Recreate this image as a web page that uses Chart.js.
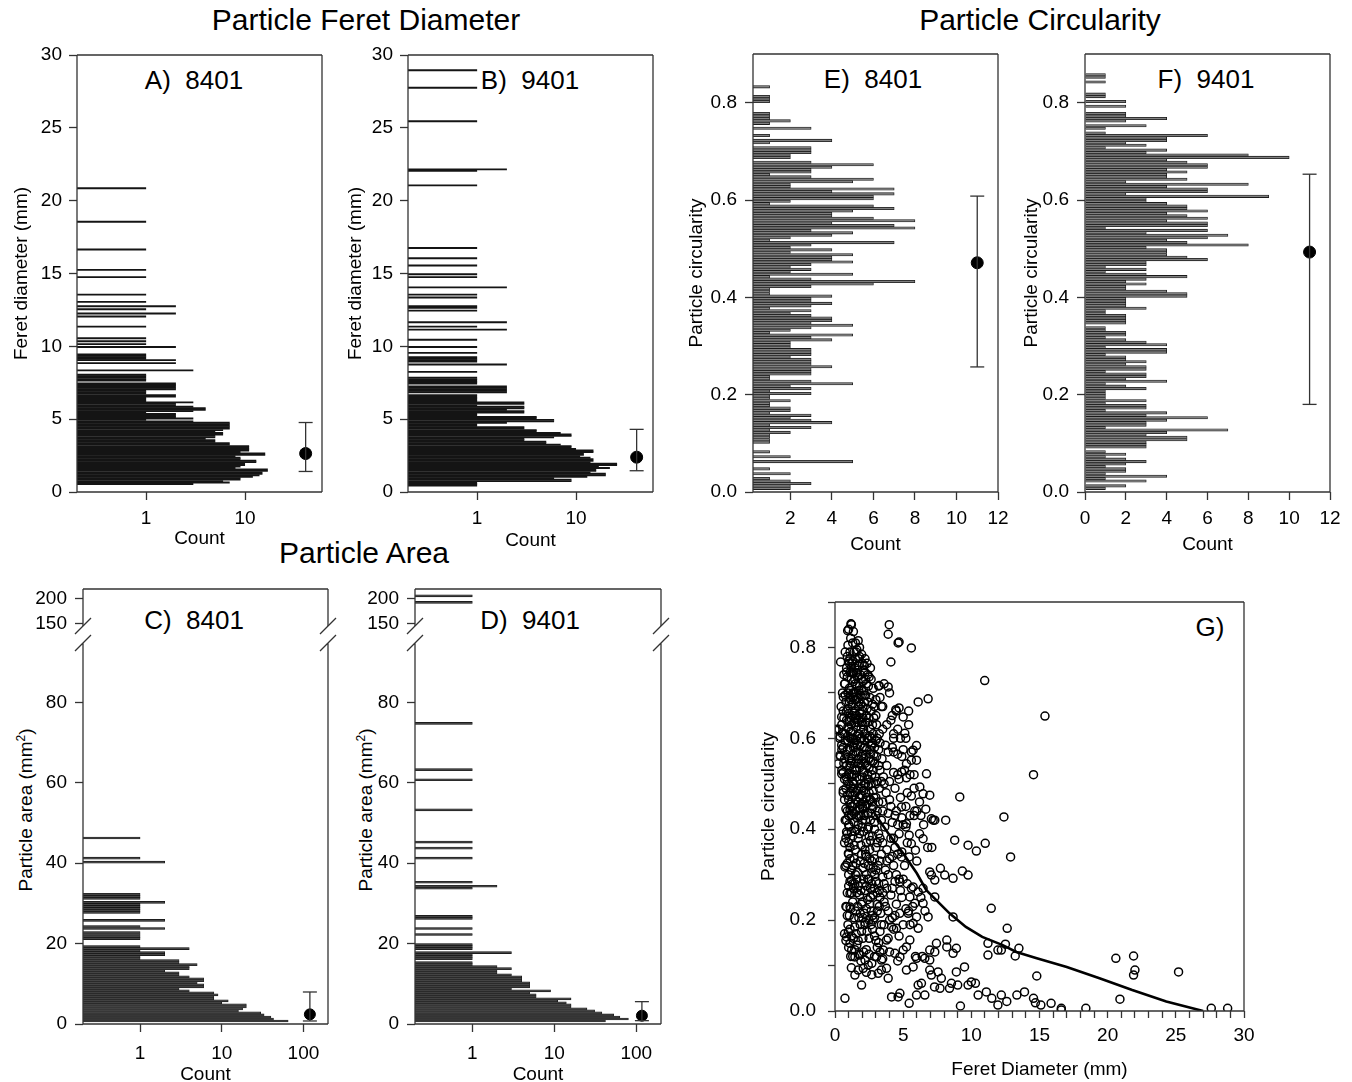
<!DOCTYPE html>
<html lang="en">
<head>
<meta charset="UTF-8">
<title>Particle size and shape</title>
<script src="https://cdn.jsdelivr.net/npm/chart.js"></script>
<style>
  html, body { margin: 0; padding: 0; background: #fff; overflow: hidden; }
  #page { position: relative; width: 1352px; height: 1082px; overflow: hidden;
          font-family: 'Liberation Sans', Arial, sans-serif; color: #000; }
  #page canvas { position: absolute; }
  .txt { position: absolute; transform: translate(-50%, -50%); white-space: pre; line-height: 1; }
  .head { font-size: 30px; }
  .lab { font-size: 26px; }
  .ytitle { font-size: 19px; transform: translate(-50%, -50%) rotate(-90deg); }
  .ytitle sup { font-size: 12px; vertical-align: 7px; line-height: 0; }
</style>
</head>
<body>
<div id="page">
  <div class="txt head" style="left:366px;top:20px">Particle Feret Diameter</div>
  <div class="txt head" style="left:1040px;top:20px">Particle Circularity</div>
  <div class="txt head" style="left:364px;top:553px">Particle Area</div>
  <div class="txt lab" style="left:194px;top:80px">A)  8401</div>
  <div class="txt lab" style="left:530px;top:80px">B)  9401</div>
  <div class="txt lab" style="left:873px;top:79px">E)  8401</div>
  <div class="txt lab" style="left:1206px;top:79px">F)  9401</div>
  <div class="txt lab" style="left:194px;top:620px">C)  8401</div>
  <div class="txt lab" style="left:530px;top:620px">D)  9401</div>
  <div class="txt lab" style="left:1210px;top:627px">G)</div>
  <div class="txt ytitle" style="left:25px;top:810px">Particle area (mm<sup>2</sup>)</div>
  <div class="txt ytitle" style="left:365px;top:810px">Particle area (mm<sup>2</sup>)</div>
</div>

<script>
// ---- data ----

// A) 8401 Feret diameter histogram: bin centre (mm) and count
const feretA_mm = [
  0.55, 0.65, 0.75, 0.85, 0.95, 1.05, 1.15, 1.25, 1.35, 1.45,
  1.55, 1.65, 1.75, 1.85, 1.95, 2.05, 2.15, 2.25, 2.35, 2.45,
  2.55, 2.65, 2.75, 2.85, 2.95, 3.05, 3.15, 3.25, 3.35, 3.45,
  3.55, 3.65, 3.75, 3.85, 3.95, 4.05, 4.15, 4.25, 4.35, 4.45,
  4.55, 4.65, 4.75, 4.85, 4.95, 5.05, 5.15, 5.25, 5.35, 5.45,
  5.55, 5.65, 5.75, 5.85, 5.95, 6.05, 6.15, 6.25, 6.35, 6.45,
  6.55, 6.65, 6.75, 6.85, 6.95, 7.05, 7.15, 7.25, 7.35, 7.45,
  7.65, 7.75, 7.85, 7.95, 8.05, 8.35, 8.85, 9.05, 9.15, 9.25,
  9.35, 9.45, 9.95, 10.15, 10.35, 10.55, 11.35, 12.05, 12.25, 12.55,
  12.75, 13.05, 13.55, 14.75, 15.25, 16.65, 18.55, 20.85
];
const feretA_n = [
  3, 7, 6, 9, 9, 12, 14, 15, 15, 17,
  17, 8, 9, 10, 10, 13, 13, 9, 9, 8,
  16, 16, 9, 11, 11, 11, 11, 7, 7, 5,
  5, 4, 5, 5, 6, 6, 5, 6, 7, 7,
  7, 7, 7, 3, 1, 3, 2, 2, 2, 1,
  3, 4, 4, 3, 2, 2, 3, 1, 1, 1,
  2, 2, 1, 1, 1, 2, 2, 2, 2, 2,
  1, 1, 1, 1, 1, 3, 2, 2, 1, 1,
  1, 1, 2, 1, 1, 1, 1, 1, 2, 1,
  2, 1, 1, 1, 1, 1, 1, 1
];

// B) 9401 Feret diameter histogram
const feretB_mm = [
  0.45, 0.55, 0.65, 0.75, 0.85, 0.95, 1.05, 1.15, 1.25, 1.35,
  1.45, 1.55, 1.65, 1.75, 1.85, 1.95, 2.05, 2.15, 2.25, 2.35,
  2.45, 2.55, 2.65, 2.75, 2.85, 2.95, 3.05, 3.15, 3.25, 3.35,
  3.45, 3.55, 3.65, 3.75, 3.85, 3.95, 4.05, 4.15, 4.25, 4.35,
  4.45, 4.55, 4.65, 4.75, 4.85, 4.95, 5.05, 5.15, 5.25, 5.35,
  5.45, 5.55, 5.65, 5.75, 5.85, 5.95, 6.05, 6.15, 6.25, 6.35,
  6.45, 6.55, 6.65, 6.85, 6.95, 7.05, 7.15, 7.25, 7.45, 7.55,
  7.65, 7.75, 7.85, 8.25, 8.75, 8.95, 9.05, 9.15, 9.25, 9.55,
  9.95, 10.45, 11.15, 11.35, 11.65, 12.45, 12.65, 12.75, 13.35, 13.55,
  14.05, 14.75, 14.95, 15.55, 16.05, 16.75, 21.05, 22.05, 22.15, 25.45,
  27.75, 28.95
];
const feretB_n = [
  1, 1, 1, 9, 9, 6, 13, 20, 20, 14,
  16, 16, 22, 17, 26, 26, 14, 15, 15, 14,
  11, 12, 12, 15, 15, 10, 9, 9, 7, 5,
  5, 3, 3, 6, 9, 9, 7, 4, 4, 3,
  3, 1, 1, 2, 6, 6, 4, 4, 1, 1,
  3, 3, 2, 3, 3, 1, 3, 3, 1, 1,
  1, 1, 1, 2, 2, 2, 2, 2, 1, 1,
  1, 1, 1, 1, 2, 1, 1, 1, 1, 1,
  1, 1, 2, 1, 2, 1, 1, 1, 1, 1,
  2, 1, 1, 1, 1, 1, 1, 1, 2, 1,
  1, 1
];

// C) 8401 particle area histogram: bin centre (mm2) and count
const areaC_mm2 = [
  0.75, 1.25, 1.75, 2.25, 2.75, 3.25, 3.75, 4.25, 4.75, 5.25,
  5.75, 6.25, 6.75, 7.25, 7.75, 8.25, 8.75, 9.25, 9.75, 10.25,
  10.75, 11.25, 11.75, 12.25, 12.75, 13.25, 13.75, 14.25, 14.75, 15.25,
  15.75, 16.25, 16.75, 17.25, 17.75, 18.25, 18.75, 19.25, 21.25, 21.75,
  22.25, 22.75, 23.75, 24.25, 25.75, 27.75, 28.25, 28.75, 29.25, 29.75,
  30.25, 31.25, 31.75, 32.25, 40.25, 41.25, 46.25
];
const areaC_n = [
  65, 43, 40, 33, 30, 16, 18, 20, 20, 10,
  12, 8, 8, 9, 8, 4, 3, 6, 6, 5,
  6, 6, 4, 3, 3, 2, 4, 4, 5, 3,
  3, 1, 1, 2, 2, 1, 4, 1, 1, 1,
  1, 1, 2, 1, 2, 1, 1, 1, 1, 1,
  2, 1, 1, 1, 2, 1, 1
];

// D) 9401 particle area histogram
const areaD_mm2 = [
  0.75, 1.25, 1.75, 2.25, 2.75, 3.25, 3.75, 4.25, 4.75, 5.25,
  5.75, 6.25, 6.75, 7.25, 7.75, 8.25, 8.75, 9.25, 9.75, 10.25,
  10.75, 11.25, 11.75, 12.25, 12.75, 13.25, 13.75, 14.25, 14.75, 15.25,
  16.25, 16.75, 17.25, 17.75, 18.75, 19.25, 19.75, 22.25, 23.75, 26.25,
  26.75, 33.75, 34.25, 35.25, 41.25, 43.75, 45.25, 53.25, 60.75, 63.25,
  74.75, 192.25, 205.25
];
const areaD_n = [
  42, 80, 63, 53, 38, 31, 25, 16, 16, 14,
  11, 16, 6, 6, 5, 9, 3, 5, 5, 5,
  4, 4, 4, 3, 2, 2, 3, 2, 1, 1,
  1, 1, 1, 3, 1, 1, 1, 1, 1, 1,
  1, 1, 2, 1, 1, 1, 1, 1, 1, 1,
  1, 1, 1
];

// E) and F) circularity histograms, bins of 0.005 starting at 0
const circBinWidth = 0.005;
const circE_n = [
  0, 2, 2, 3, 2, 1, 0, 2, 0, 1,
  0, 0, 5, 0, 2, 0, 1, 0, 0, 0,
  1, 1, 1, 1, 2, 1, 3, 1, 4, 3,
  2, 3, 1, 2, 2, 1, 1, 2, 1, 1,
  3, 1, 3, 2, 5, 3, 1, 1, 3, 3,
  3, 4, 3, 3, 3, 2, 3, 3, 3, 2,
  2, 2, 4, 3, 5, 1, 2, 3, 5, 3,
  4, 4, 3, 2, 3, 1, 3, 4, 3, 3,
  4, 1, 1, 1, 3, 6, 8, 3, 1, 5,
  2, 3, 2, 3, 5, 4, 4, 5, 2, 4,
  2, 3, 7, 1, 2, 4, 5, 3, 8, 7,
  4, 8, 6, 4, 4, 5, 7, 6, 1, 2,
  6, 6, 7, 4, 7, 2, 2, 5, 6, 3,
  1, 3, 3, 4, 6, 3, 0, 2, 2, 3,
  3, 3, 0, 1, 4, 0, 1, 0, 0, 3,
  0, 1, 2, 1, 1, 1, 0, 0, 0, 0,
  1, 1, 1, 0, 0, 0, 1
];
const circF_n = [
  0, 1, 2, 0, 3, 1, 4, 1, 2, 2,
  1, 2, 3, 2, 1, 2, 1, 0, 3, 3,
  3, 5, 5, 3, 4, 7, 1, 3, 3, 4,
  6, 3, 4, 1, 3, 3, 1, 3, 1, 1,
  1, 1, 3, 2, 1, 4, 2, 3, 3, 1,
  3, 3, 2, 3, 2, 2, 1, 4, 4, 1,
  4, 3, 2, 1, 2, 2, 1, 1, 0, 2,
  2, 2, 2, 1, 1, 3, 2, 2, 2, 2,
  5, 5, 4, 2, 2, 3, 2, 3, 5, 3,
  1, 3, 1, 3, 3, 6, 5, 4, 4, 4,
  3, 8, 5, 4, 6, 7, 3, 6, 1, 6,
  6, 4, 6, 5, 4, 6, 5, 5, 4, 3,
  3, 9, 2, 6, 6, 4, 8, 2, 5, 4,
  4, 5, 4, 6, 6, 5, 4, 10, 8, 3,
  4, 1, 3, 2, 4, 4, 6, 1, 0, 1,
  3, 0, 2, 4, 2, 2, 0, 0, 2, 0,
  2, 0, 1, 1, 0, 0, 0, 0, 1, 0,
  1, 1
];

// mean, lower and upper error bar value, and where the marker sits on the count axis
const errA = [2.64, 1.41, 4.77], errAtA = 41;
const errB = [2.39, 1.46, 4.30], errAtB = 41;
const errC = [2.40, 0.75, 7.96], errAtC = 120;
const errD = [2.07, 0.83, 5.56], errAtD = 117;
const errE = [0.471, 0.257, 0.608], errAtE = 11;
const errF = [0.493, 0.180, 0.653], errAtF = 11;

// G) circularity vs Feret diameter, [diameter mm, circularity]
const gPoints = [
  [1.2,0.85],[1.0,0.84],[1.5,0.81],[1.3,0.81],[1.7,0.815],[1.8,0.80],[1.4,0.79],
  [0.9,0.78],[1.1,0.79],[1.3,0.77],[1.5,0.775],[1.6,0.795],[1.8,0.78],[2.0,0.765],[2.2,0.775],[1.45,0.755],[1.7,0.76],[2.6,0.755],[2.4,0.74],[2.1,0.75],[1.2,0.755],[1.0,0.77],[1.25,0.765],[1.55,0.745],
  [0.7,0.72],[0.9,0.735],[1.05,0.71],[1.2,0.73],[1.35,0.745],[1.5,0.72],[1.65,0.735],[1.8,0.715],[1.95,0.73],[2.1,0.705],[2.3,0.72],[2.5,0.735],[2.8,0.71],[1.4,0.70],[1.1,0.745],[1.75,0.705],[2.2,0.745],[3.2,0.715],[1.35,0.725],[1.6,0.715],[1.15,0.705],
  [0.8,0.68],[0.95,0.665],[1.1,0.69],[1.25,0.675],[1.4,0.655],[1.55,0.685],[1.7,0.67],[1.85,0.695],[2.0,0.66],[2.15,0.68],[2.35,0.665],[2.55,0.69],[2.75,0.675],[3.0,0.685],[3.3,0.69],[3.4,0.67],[1.3,0.70],[1.6,0.65],[2.25,0.695],[1.0,0.655],[0.6,0.66],[1.45,0.685],[1.7,0.69],[1.9,0.675],[1.05,0.68],[1.3,0.66],[1.5,0.645],[1.8,0.655],[2.05,0.67],[2.3,0.65],
  [0.5,0.63],[0.7,0.61],[0.85,0.64],[1.0,0.62],[1.15,0.645],[1.3,0.615],[1.45,0.635],[1.6,0.605],[1.75,0.64],[1.9,0.62],[2.05,0.645],[2.2,0.61],[2.4,0.635],[2.6,0.62],[2.85,0.645],[3.05,0.63],[3.25,0.61],[3.5,0.62],[3.8,0.63],[4.1,0.64],[4.3,0.61],[1.2,0.60],[2.7,0.60],[0.3,0.62],[0.1,0.62],[4.5,0.66],[4.2,0.65],[0.95,0.625],[1.2,0.63],[1.55,0.625],[1.85,0.60],[2.1,0.62],[2.45,0.60],
  [0.4,0.56],[0.6,0.58],[0.8,0.565],[0.95,0.595],[1.1,0.575],[1.25,0.555],[1.4,0.59],[1.55,0.57],[1.7,0.555],[1.85,0.585],[2.0,0.565],[2.15,0.595],[2.3,0.575],[2.5,0.555],[2.65,0.585],[2.85,0.565],[3.0,0.595],[3.2,0.575],[3.45,0.555],[3.7,0.585],[3.9,0.57],[4.2,0.58],[4.6,0.565],[5.0,0.575],[1.95,0.60],[2.75,0.59],[3.3,0.59],[0.65,0.545],[1.1,0.60],[1.35,0.58],[1.65,0.585],[1.95,0.56],[2.25,0.565],[2.55,0.575],[2.9,0.58],[1.05,0.555],
  [0.5,0.53],[0.7,0.51],[0.85,0.54],[1.0,0.52],[1.15,0.545],[1.3,0.505],[1.45,0.53],[1.6,0.515],[1.75,0.545],[1.9,0.50],[2.05,0.53],[2.2,0.545],[2.35,0.51],[2.5,0.535],[2.7,0.52],[2.9,0.545],[3.1,0.505],[3.3,0.53],[3.55,0.515],[3.8,0.54],[4.0,0.505],[4.3,0.525],[4.7,0.51],[5.1,0.53],[5.5,0.52],[2.6,0.55],[1.2,0.55],[1.5,0.545],[1.8,0.535],[2.1,0.525],[2.4,0.52],[2.8,0.53],[3.2,0.54],[1.25,0.52],[0.9,0.505],
  [0.6,0.48],[0.8,0.49],[1.0,0.465],[1.15,0.495],[1.3,0.475],[1.45,0.455],[1.6,0.485],[1.8,0.47],[1.95,0.49],[2.1,0.46],[2.25,0.48],[2.45,0.495],[2.6,0.465],[2.8,0.485],[3.0,0.47],[3.25,0.49],[3.5,0.46],[3.75,0.48],[4.0,0.465],[4.4,0.49],[4.8,0.47],[5.3,0.48],[1.35,0.50],[2.0,0.45],[3.6,0.50],[1.7,0.49],[2.15,0.50],[2.5,0.48],[3.0,0.50],[3.4,0.505],[1.1,0.48],[1.5,0.465],[1.9,0.455],[2.35,0.455],[2.75,0.46],[3.2,0.46],
  [0.75,0.42],[0.9,0.44],[1.05,0.405],[1.2,0.43],[1.4,0.415],[1.55,0.44],[1.7,0.41],[1.9,0.43],[2.05,0.445],[2.25,0.42],[2.45,0.405],[2.65,0.435],[2.9,0.415],[3.1,0.44],[3.4,0.42],[3.65,0.405],[3.9,0.435],[4.2,0.415],[4.5,0.44],[4.9,0.425],[5.2,0.405],[1.3,0.45],[2.8,0.45],[1.25,0.44],[1.75,0.43],[2.2,0.43],[2.6,0.42],[3.0,0.43],[3.5,0.44],[1.0,0.41],
  [0.7,0.37],[0.9,0.39],[1.1,0.36],[1.3,0.385],[1.5,0.355],[1.7,0.38],[1.9,0.365],[2.1,0.395],[2.3,0.37],[2.55,0.355],[2.75,0.385],[3.0,0.36],[3.2,0.39],[3.5,0.37],[3.8,0.355],[4.1,0.38],[4.4,0.36],[4.7,0.39],[5.3,0.37],[1.6,0.40],[2.4,0.40],[1.45,0.395],[2.0,0.405],[2.5,0.385],[2.9,0.40],[3.3,0.38],
  [0.8,0.32],[1.0,0.345],[1.2,0.31],[1.4,0.335],[1.65,0.305],[1.85,0.33],[2.05,0.315],[2.25,0.345],[2.45,0.32],[2.7,0.305],[2.9,0.335],[3.15,0.32],[3.4,0.345],[3.7,0.31],[4.0,0.335],[4.3,0.32],[4.6,0.345],[1.5,0.30],[2.3,0.30],[2.3,0.34],[2.7,0.33],[3.0,0.31],[1.0,0.30],[3.8,0.33],[4.2,0.34],
  [0.9,0.26],[1.1,0.285],[1.35,0.27],[1.6,0.29],[1.8,0.255],[2.0,0.28],[2.2,0.265],[2.4,0.29],[2.6,0.27],[2.8,0.255],[3.0,0.285],[3.25,0.265],[3.5,0.295],[3.8,0.27],[4.1,0.255],[4.4,0.285],[4.8,0.265],[5.0,0.29],[2.9,0.30],[3.3,0.25],[2.5,0.29],[2.9,0.27],[3.2,0.28],[2.6,0.25],[3.5,0.26],[3.9,0.30],[4.2,0.27],[1.6,0.26],[1.3,0.28],[4.7,0.29],
  [0.8,0.23],[1.05,0.21],[1.3,0.24],[1.5,0.22],[1.75,0.205],[1.95,0.235],[2.15,0.215],[2.4,0.245],[2.65,0.22],[2.9,0.205],[3.1,0.235],[3.35,0.215],[3.6,0.24],[3.9,0.22],[4.2,0.205],[4.5,0.235],[4.75,0.215],[5.2,0.225],[2.5,0.20],[2.0,0.24],[3.1,0.22],[3.7,0.23],[4.0,0.20],[2.8,0.20],
  [0.7,0.17],[0.95,0.19],[1.2,0.165],[1.45,0.185],[1.7,0.155],[1.95,0.175],[2.2,0.195],[2.5,0.16],[2.75,0.18],[3.0,0.155],[3.3,0.175],[3.6,0.19],[3.9,0.16],[4.3,0.18],[4.7,0.165],[5.5,0.19],[2.2,0.19],[3.4,0.19],
  [1.0,0.14],[1.3,0.12],[1.6,0.145],[1.9,0.11],[2.3,0.135],[2.7,0.105],[3.1,0.14],[3.5,0.115],[4.0,0.13],[4.6,0.11],
  [0.75,0.79],[0.95,0.805],[1.15,0.82],[1.35,0.835],[1.55,0.79],[1.75,0.775],[1.95,0.785],[2.15,0.76],[2.35,0.765],
  [0.65,0.74],[0.85,0.755],[1.05,0.765],[1.25,0.745],[1.45,0.73],[1.65,0.75],[1.85,0.74],[2.05,0.725],[2.25,0.73],[2.45,0.715],[2.65,0.73],
  [0.55,0.70],[0.75,0.695],[0.95,0.70],[1.15,0.685],[1.35,0.69],[1.55,0.70],[1.75,0.68],[1.95,0.705],[2.15,0.695],[2.4,0.68],[2.65,0.66],[2.9,0.67],
  [0.45,0.67],[0.65,0.645],[0.85,0.66],[1.05,0.64],[1.25,0.65],[1.45,0.66],[1.65,0.635],[1.85,0.645],[2.05,0.63],[2.25,0.635],[2.5,0.645],[2.75,0.63],[3.0,0.65],
  [0.35,0.60],[0.55,0.61],[0.75,0.595],[0.95,0.605],[1.15,0.615],[1.35,0.60],[1.55,0.595],[1.75,0.61],[1.95,0.635],[2.15,0.58],[2.35,0.60],[2.55,0.605],[2.8,0.61],[3.1,0.60],
  [0.5,0.575],[0.7,0.555],[0.9,0.575],[1.1,0.54],[1.3,0.565],[1.5,0.58],[1.7,0.57],[1.9,0.545],[2.1,0.555],[2.35,0.54],[2.6,0.565],[2.8,0.55],[3.05,0.56],
  [0.6,0.525],[0.8,0.515],[1.0,0.50],[1.2,0.515],[1.4,0.52],[1.6,0.53],[1.8,0.51],[2.0,0.515],[2.25,0.50],[2.45,0.51],[2.65,0.50],[2.95,0.515],
  [0.7,0.465],[0.9,0.475],[1.1,0.455],[1.3,0.49],[1.5,0.48],[1.7,0.46],[1.9,0.475],[2.1,0.485],[2.3,0.47],[2.55,0.465],[2.85,0.47],
  [0.8,0.445],[1.0,0.43],[1.2,0.45],[1.4,0.435],[1.6,0.425],[1.8,0.445],[2.0,0.42],[2.2,0.45],[2.4,0.435],[2.7,0.445],
  [0.8,0.38],[1.0,0.37],[1.2,0.395],[1.4,0.365],[1.8,0.39],[2.2,0.355],[2.6,0.375],[3.1,0.37],
  [0.9,0.325],[1.1,0.335],[1.3,0.32],[1.55,0.325],[1.95,0.345],[2.15,0.325],[2.55,0.335],[2.8,0.315],[3.3,0.33],
  [1.0,0.275],[1.2,0.26],[1.45,0.28],[1.7,0.275],[1.9,0.265],[2.1,0.29],[2.3,0.275],[2.7,0.28],[3.1,0.26],[3.6,0.28],
  [0.9,0.21],[1.15,0.225],[1.4,0.205],[1.65,0.23],[1.85,0.215],[2.05,0.205],[2.3,0.225],[2.55,0.235],[2.75,0.21],[3.25,0.23],
  [0.8,0.155],[1.1,0.18],[1.35,0.16],[1.55,0.17],[1.85,0.19],[2.05,0.16],[2.35,0.175],[2.65,0.19],[2.9,0.165],[3.2,0.15],
  [1.15,0.12],[1.45,0.135],[1.75,0.125],[2.1,0.13],[2.5,0.125],[2.9,0.12],[3.3,0.13],
  [1.2,0.095],[1.7,0.09],[2.3,0.085],[2.7,0.08],[3.4,0.09],
  [4.1,0.45],[4.4,0.43],[4.6,0.41],[4.3,0.38],[4.9,0.35],[5.1,0.32],[4.5,0.30],[5.3,0.28],[5.6,0.27],[4.9,0.25],[5.4,0.22],[4.4,0.21],[5.0,0.19],[5.5,0.43],[5.8,0.43],[5.2,0.45],[5.0,0.41],[4.6,0.62],[4.3,0.57],[4.9,0.56],[5.2,0.60],[5.4,0.66],[4.0,0.70],[3.6,0.72],[3.5,0.67],[4.3,0.60],[5.8,0.49],[6.0,0.44],[6.3,0.43],[6.5,0.41],[6.2,0.46],[6.8,0.36],[7.1,0.36],[7.2,0.42],[6.2,0.39],[6.0,0.33],[6.3,0.25],[6.6,0.22],[5.7,0.23],[5.9,0.12],[6.4,0.12],[5.4,0.63],[5.6,0.57],[4.8,0.60],[4.6,0.52],[5.8,0.52],
  [10.98,0.727],[15.4,0.649],[14.56,0.52],[9.15,0.471],[12.39,0.427],[11.02,0.369],[12.88,0.339],[9.76,0.365],[10.37,0.352],[8.78,0.376],[8.12,0.42],[9.34,0.308],[9.76,0.299],[11.46,0.226],[12.63,0.182],[11.22,0.149],[11.22,0.123],[11.95,0.134],[12.2,0.134],[12.5,0.147],
  [13.49,0.138],[13.22,0.121],[14.8,0.077],[13.9,0.042],[13.34,0.035],[14.56,0.028],[14.7,0.018],[15.1,0.013],[15.85,0.017],[16.6,0.006],[16.6,0.002],[18.4,0.006],[20.6,0.116],[20.9,0.026],[21.9,0.121],[22.0,0.09],[21.9,0.079],[25.2,0.086],[27.6,0.006],[28.8,0.006],
  [12.2,0.035],[12.6,0.021],[11.95,0.013],[11.5,0.028],[11.1,0.042],[10.5,0.035],[10.3,0.061],[10.0,0.064],[9.76,0.057],[9.5,0.097],[9.2,0.011],[8.9,0.086],[8.9,0.138],[8.66,0.127],[8.2,0.156],[8.2,0.141],[8.66,0.207],[8.66,0.292],[8.05,0.299],[7.73,0.314],
  [7.32,0.288],[7.07,0.299],[6.95,0.306],[7.32,0.251],[6.83,0.207],[6.46,0.237],[8.54,0.061],[9.0,0.057],[8.4,0.05],[7.8,0.072],[7.7,0.05],[7.3,0.053],[7.56,0.086],[7.44,0.149],[7.32,0.13],[6.95,0.134],[6.95,0.112],[7.07,0.079],[6.95,0.09],[6.59,0.035],
  [6.59,0.116],[6.1,0.057],[5.98,0.035],[6.34,0.061],[5.44,0.017],[5.24,0.09],[5.73,0.097],[5.98,0.116],[4.76,0.039],[4.63,0.031],[4.15,0.031],[3.9,0.072],[1.95,0.057],[1.46,0.079],[0.73,0.028],[0.0,0.619],[0.41,0.768],[1.17,0.852],[0.93,0.837],[3.98,0.85],
  [3.9,0.829],[4.63,0.81],[4.7,0.812],[5.6,0.799],[4.1,0.768],[3.24,0.716],[3.9,0.713],[6.1,0.68],[6.83,0.687],[4.7,0.667],[4.46,0.663],[5.0,0.647],[5.12,0.611],[5.73,0.574],[5.6,0.552],[5.98,0.552],[6.71,0.522],[6.95,0.475],[6.46,0.478],[6.66,0.444],
  [7.07,0.423],[7.32,0.42],[6.46,0.379],[5.85,0.44],[5.6,0.473],[6.22,0.493],[5.24,0.513],[5.98,0.584],[5.24,0.544],[4.88,0.526],[4.88,0.449],[5.24,0.412],[5.44,0.387],[5.6,0.368],[5.9,0.354],[5.44,0.339],[4.88,0.339],[4.76,0.284],[5.73,0.273],[5.49,0.251],
  [5.85,0.237],[6.46,0.27],[6.1,0.262],[5.98,0.207],[6.1,0.182],[5.73,0.193],[5.37,0.215],[5.49,0.156],[5.24,0.141],[5.0,0.134],[4.76,0.119],[4.39,0.127],[4.51,0.182],[4.15,0.185],[3.78,0.156],[3.54,0.134],[3.41,0.112],[3.05,0.119],[3.17,0.083],[3.78,0.094],
  [2.44,0.101],[2.2,0.112],[2.07,0.094],[1.83,0.123],[1.46,0.119],[1.22,0.134],[1.1,0.149],[0.98,0.174],[0.85,0.163],[1.1,0.229],[0.85,0.229],[1.1,0.259],[1.22,0.288],[0.73,0.317],[0.98,0.347],[0.85,0.394],[0.85,0.42],[1.1,0.442],[0.61,0.486],[0.49,0.522],
  [0.24,0.544],[0.37,0.563],[0.49,0.585],[0.37,0.604],[0.49,0.647],[0.61,0.691],[0.73,0.72],[0.85,0.746],[1.1,0.775]
];

// smoothed trend line through G
const fitX = [2.9, 4.0, 5.0, 6.0, 6.7, 7.3, 8.4, 9.6, 10.8, 12.3, 13.3, 14.8, 17.0, 19.4, 21.8, 24.3, 27.0];
const fitY = [0.435, 0.387, 0.347, 0.303, 0.266, 0.248, 0.215, 0.185, 0.163, 0.145, 0.130, 0.116, 0.097, 0.072, 0.046, 0.021, 0.0];

// tick values
const feretTicks = [0, 5, 10, 15, 20, 25, 30];
const countLogTicks = [1, 10];
const areaCountTicks = [1, 10, 100];
const areaLowTicks = [0, 20, 40, 60, 80];
const areaHighTicks = [150, 200];
const circTicks = [0, 0.2, 0.4, 0.6, 0.8];
const countTicksE = [2, 4, 6, 8, 10, 12];
const countTicksF = [0, 2, 4, 6, 8, 10, 12];
const gXTicks = [0,1,2,3,4,5,6,7,8,9,10,11,12,13,14,15,16,17,18,19,20,21,22,23,24,25,26,27,28,29,30];
const gYTicks = [0, 0.1, 0.2, 0.3, 0.4, 0.5, 0.6, 0.7, 0.8, 0.9];

// ---- drawing ----
Chart.defaults.font.family = "'Liberation Sans', Arial, sans-serif";
Chart.defaults.font.size = 19;
Chart.defaults.color = '#000';

const page = document.getElementById('page');

// canvas so that the plot area lands on box = [left, top, right, bottom]
function makeCanvas(box, yW, xH, pad) {
  const c = document.createElement('canvas');
  const left = box[0] - yW, top = box[1] - pad.top;
  const w = box[2] - left + pad.right, h = box[3] - top + xH + pad.bottom;
  c.width = w; c.height = h;
  c.style.left = left + 'px'; c.style.top = top + 'px';
  c.style.width = w + 'px'; c.style.height = h + 'px';
  page.appendChild(c);
  return c;
}

const framePlugin = {
  id: 'frame',
  afterDatasetsDraw(chart, args, opts) {
    const a = chart.chartArea, ctx = chart.ctx, s = opts.sides || 'ltrb';
    ctx.save();
    ctx.strokeStyle = '#333';
    ctx.lineWidth = 1.3;
    ctx.beginPath();
    if (s.includes('t')) { ctx.moveTo(a.left, a.top); ctx.lineTo(a.right, a.top); }
    if (s.includes('b')) { ctx.moveTo(a.left, a.bottom); ctx.lineTo(a.right, a.bottom); }
    if (s.includes('l')) { ctx.moveTo(a.left, a.top); ctx.lineTo(a.left, a.bottom); }
    if (s.includes('r')) { ctx.moveTo(a.right, a.top); ctx.lineTo(a.right, a.bottom); }
    if (opts.breakGap) {
      // axis break marks: one at the top of this part, one at the bottom of the part above
      [a.left, a.right].forEach(x => {
        [a.top, a.top - opts.breakGap].forEach(y => {
          ctx.moveTo(x - 8, y + 8); ctx.lineTo(x + 8, y - 8);
        });
      });
    }
    ctx.stroke();
    ctx.restore();
  }
};

function axis(type, pos, min, max, ticks, fmt, size, pad, tl, title) {
  const horiz = pos === 'bottom';
  return {
    type, position: pos, min, max, offset: false,
    afterBuildTicks: s => { s.ticks = ticks.map(v => ({ value: v })); },
    afterFit: s => { if (horiz) s.height = size; else s.width = size; },
    ticks: { padding: pad, autoSkip: false, maxRotation: 0, minRotation: 0, callback: fmt, color: '#000' },
    grid: { drawOnChartArea: false, tickLength: tl, tickColor: '#333', tickWidth: 1.3, offset: false },
    border: { display: false },
    title: title ? { display: true, text: title, padding: 0, color: '#000' } : { display: false }
  };
}

const asInt = v => String(v);
const asOne = v => v.toFixed(1);

function pairs(pos, n) {
  return pos.map((v, i) => ({ x: n[i], y: v }));
}

function circBars(counts) {
  const out = [];
  counts.forEach((n, i) => { if (n > 0) out.push({ x: n, y: (i + 0.5) * circBinWidth }); });
  return out;
}

function errSets(at, e, capR, dotR) {
  return [
    { type: 'scatter', indexAxis: 'x', data: [{ x: at, y: e[1] }, { x: at, y: e[2] }],
      showLine: true, borderColor: '#333', borderWidth: 1.3,
      pointStyle: 'line', pointRadius: capR, pointBorderColor: '#333', pointBorderWidth: 1.3 },
    { type: 'scatter', indexAxis: 'x', data: [{ x: at, y: e[0] }],
      pointRadius: dotR, pointBackgroundColor: '#000', pointBorderColor: '#000', pointBorderWidth: 1 }
  ];
}

function histogram(canvas, bars, style, xAxis, yAxis, extra, frame, pad) {
  const barSet = Object.assign({ type: 'bar', data: bars, categoryPercentage: 1, barPercentage: 1, borderSkipped: 'start' }, style);
  return new Chart(canvas, {
    type: 'bar',
    data: { datasets: [barSet].concat(extra) },
    options: {
      indexAxis: 'y', responsive: false, animation: false, events: [],
      layout: { padding: pad },
      scales: { x: xAxis, y: yAxis },
      plugins: { legend: { display: false }, tooltip: { enabled: false }, frame }
    },
    plugins: [framePlugin]
  });
}

const darkBars = { backgroundColor: '#141414', borderColor: '#000', borderWidth: 0, barPercentage: 1.3 };
const areaBars = { backgroundColor: '#444', borderColor: '#111', borderWidth: 0.6 };
const greyBars = { backgroundColor: '#808080', borderColor: '#1a1a1a', borderWidth: 0.8 };
const padStd = { top: 26, right: 20, bottom: 0, left: 0 };

// A
(function () {
  const box = [77, 55, 322, 492], yW = 67, xH = 58;
  histogram(makeCanvas(box, yW, xH, padStd), pairs(feretA_mm, feretA_n), darkBars,
    axis('logarithmic', 'bottom', 0.2, 60, countLogTicks, asInt, xH, 7, 8, 'Count'),
    axis('linear', 'left', 0, 30, feretTicks, asInt, yW, 7, 8, 'Feret diameter (mm)'),
    errSets(errAtA, errA, 7, 6), { sides: 'ltrb' }, padStd);
})();

// B
(function () {
  const box = [408, 55, 653, 492], yW = 64, xH = 60;
  histogram(makeCanvas(box, yW, xH, padStd), pairs(feretB_mm, feretB_n), darkBars,
    axis('logarithmic', 'bottom', 0.2, 60, countLogTicks, asInt, xH, 7, 8, 'Count'),
    axis('linear', 'left', 0, 30, feretTicks, asInt, yW, 7, 8, 'Feret diameter (mm)'),
    errSets(errAtB, errB, 7, 6), { sides: 'ltrb' }, padStd);
})();

// E
(function () {
  const box = [753, 54, 998, 492], yW = 68, xH = 64;
  histogram(makeCanvas(box, yW, xH, padStd), circBars(circE_n), greyBars,
    axis('linear', 'bottom', 0.2, 12, countTicksE, asInt, xH, 7, 8, 'Count'),
    axis('linear', 'left', 0, 0.9, circTicks, asOne, yW, 8, 8, 'Particle circularity'),
    errSets(errAtE, errE, 7, 6), { sides: 'ltrb' }, padStd);
})();

// F
(function () {
  const box = [1085, 54, 1330, 492], yW = 65, xH = 64;
  histogram(makeCanvas(box, yW, xH, padStd), circBars(circF_n), greyBars,
    axis('linear', 'bottom', 0, 12, countTicksF, asInt, xH, 7, 8, 'Count'),
    axis('linear', 'left', 0, 0.9, circTicks, asOne, yW, 8, 8, 'Particle circularity'),
    errSets(errAtF, errF, 7, 6), { sides: 'ltrb' }, padStd);
})();

// C and D: broken area axis, an upper strip (150-200) and the main part (0-95)
function areaPanel(left, right, mm2, n, errAt, err) {
  const yW = 60, xH = 62;
  const all = pairs(mm2, n);
  const low = all.filter(p => p.y < 100), high = all.filter(p => p.y >= 100);
  const padHigh = { top: 26, right: 20, bottom: 20, left: 0 };
  const hiAxisX = axis('logarithmic', 'bottom', 0.2, 200, areaCountTicks, asInt, 0, 10, 8, null);
  hiAxisX.display = false;
  histogram(makeCanvas([left, 589, right, 626], yW, 0, padHigh), high,
    Object.assign({}, areaBars, { barThickness: 2 }),
    hiAxisX,
    axis('linear', 'left', 145, 219, areaHighTicks, asInt, yW, 8, 8, null),
    [], { sides: 'ltr' }, padHigh);
  const padLow = { top: 30, right: 20, bottom: 0, left: 0 };
  histogram(makeCanvas([left, 643, right, 1024], yW, xH, padLow), low, areaBars,
    axis('logarithmic', 'bottom', 0.2, 200, areaCountTicks, asInt, xH, 10, 8, 'Count'),
    axis('linear', 'left', 0, 94.75, areaLowTicks, asInt, yW, 8, 8, null),
    errSets(errAt, err, 7, 5.5), { sides: 'lrb', breakGap: 17 }, padLow);
}
areaPanel(83, 328, areaC_mm2, areaC_n, errAtC, errC);
areaPanel(415, 661, areaD_mm2, areaD_n, errAtD, errD);

// G
(function () {
  const box = [835, 602, 1244, 1011], yW = 78, xH = 70;
  new Chart(makeCanvas(box, yW, xH, padStd), {
    type: 'scatter',
    data: {
      datasets: [
        { data: fitX.map((x, i) => ({ x, y: fitY[i] })), showLine: true, borderColor: '#000',
          borderWidth: 2.6, pointRadius: 0 },
        { data: gPoints.map(p => ({ x: p[0], y: p[1] })), pointRadius: 4, pointBorderWidth: 1.5,
          pointBackgroundColor: 'rgba(0,0,0,0)', pointBorderColor: '#000' }
      ]
    },
    options: {
      responsive: false, animation: false, events: [],
      layout: { padding: padStd },
      scales: {
        x: axis('linear', 'bottom', 0, 30, gXTicks, v => (v % 5 === 0 ? String(v) : ''), xH, 6, 7, 'Feret Diameter (mm)'),
        y: axis('linear', 'left', 0, 0.9, gYTicks, v => (Math.round(v * 10) % 2 === 0 ? v.toFixed(1) : ''), yW, 12, 7, 'Particle circularity')
      },
      plugins: { legend: { display: false }, tooltip: { enabled: false }, frame: { sides: 'ltrb' } }
    },
    plugins: [framePlugin]
  });
})();
</script>
</body>
</html>
